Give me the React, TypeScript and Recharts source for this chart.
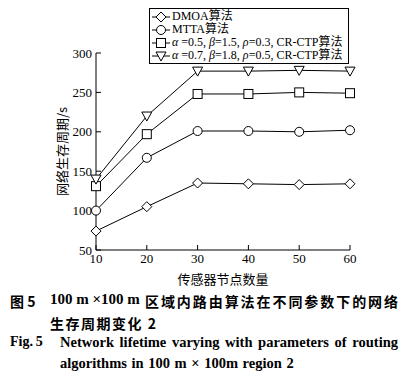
import { LineChart, Line, XAxis, YAxis, Legend } from "recharts";

const nodeCounts = [10, 20, 30, 40, 50, 60];
const dmoa = [74, 105, 135, 134, 133, 134];
const mtta = [100, 167, 201, 201, 200, 202];
const crctpA = [131, 197, 248, 248, 250, 249];
const crctpB = [140, 220, 277, 277, 278, 277];
const yTicks = [50, 100, 150, 200, 250, 300];

const series = [
  { key: "dmoa", values: dmoa, marker: "diamond" },
  { key: "mtta", values: mtta, marker: "circle" },
  { key: "crctpA", values: crctpA, marker: "square" },
  { key: "crctpB", values: crctpB, marker: "triangle" },
];

const data = nodeCounts.map((n, i) => {
  const row: Record<string, number> = { n };
  series.forEach((s) => (row[s.key] = s.values[i]));
  return row;
});

const serif = '"Liberation Serif", "Times New Roman", "Noto Sans CJK SC", serif';
const cjk = '"Noto Sans CJK SC", sans-serif';

function Marker({ type, cx, cy }: { type: string; cx: number; cy: number }) {
  const p = { fill: "#fff", stroke: "#000", strokeWidth: 1 };
  if (type === "diamond")
    return <polygon {...p} points={`${cx},${cy - 5} ${cx + 5},${cy} ${cx},${cy + 5} ${cx - 5},${cy}`} />;
  if (type === "circle") return <circle {...p} cx={cx} cy={cy} r={4.5} />;
  if (type === "square") return <rect {...p} x={cx - 4.5} y={cy - 4.5} width={9} height={9} />;
  return <polygon {...p} points={`${cx - 5},${cy - 4} ${cx + 5},${cy - 4} ${cx},${cy + 5}`} />;
}

const makeDot = (type: string) => (props: any) => {
  if (props.cx == null || props.cy == null) return <g key={props.index} />;
  return <Marker key={props.index} type={type} cx={props.cx} cy={props.cy} />;
};

const legendLabels: Record<string, React.ReactNode> = {
  dmoa: "DMOA算法",
  mtta: "MTTA算法",
  crctpA: (
    <>
      <i>α</i> =0.5, <i>β</i>=1.5, <i>ρ</i>=0.3, CR-CTP算法
    </>
  ),
  crctpB: (
    <>
      <i>α</i> =0.7, <i>β</i>=1.8, <i>ρ</i>=0.5, CR-CTP算法
    </>
  ),
};

function renderLegend() {
  return (
    <div
      style={{
        border: "1px solid #000",
        background: "#fff",
        padding: "1px 6px 1px 2px",
        fontFamily: serif,
        fontSize: 12,
        lineHeight: "13px",
        color: "#000",
      }}
    >
      {series.map((s) => (
        <div key={s.key} style={{ display: "flex", alignItems: "center", height: 13 }}>
          <svg width={18} height={12} style={{ marginRight: 2, flex: "none" }}>
            <line x1={0} y1={6} x2={18} y2={6} stroke="#000" />
            <Marker type={s.marker} cx={9} cy={6} />
          </svg>
          <span style={{ whiteSpace: "nowrap" }}>{legendLabels[s.key]}</span>
        </div>
      ))}
    </div>
  );
}

const tickStyle = { fontSize: 13, fill: "#000", fontFamily: serif };

export default function App() {
  return (
    <div style={{ position: "absolute", left: 0, top: 0, width: 404, height: 375, background: "#fff" }}>
      <LineChart width={404} height={290} data={data} margin={{ top: 53, right: 54, bottom: 0, left: 0 }}>
        <XAxis
          dataKey="n"
          type="number"
          domain={[10, 60]}
          ticks={nodeCounts}
          height={40}
          tickSize={-5}
          tickMargin={9}
          tick={tickStyle}
          axisLine={{ stroke: "#000" }}
          tickLine={{ stroke: "#000" }}
          label={{ value: "传感器节点数量", position: "insideBottom", offset: 6, fontSize: 13, fill: "#000", fontFamily: cjk }}
        />
        <YAxis
          type="number"
          domain={[50, 300]}
          ticks={yTicks}
          width={96}
          tickSize={-5}
          tickMargin={9}
          tick={tickStyle}
          axisLine={{ stroke: "#000" }}
          tickLine={{ stroke: "#000" }}
          label={{ value: "网络生存周期/s", angle: -90, position: "insideLeft", offset: 62, fontSize: 13, fill: "#000", fontFamily: cjk, style: { textAnchor: "middle" } }}
        />
        <Legend
          content={renderLegend}
          layout="vertical"
          align="center"
          verticalAlign="middle"
          wrapperStyle={{ left: 149, top: 8, width: "auto" }}
        />
        {series.map((s) => (
          <Line
            key={s.key}
            dataKey={s.key}
            stroke="#000"
            strokeWidth={1}
            dot={makeDot(s.marker)}
            activeDot={false}
            isAnimationActive={false}
          />
        ))}
      </LineChart>
      <div style={{ position: "absolute", top: 291, left: 10, width: 388, fontFamily: cjk, fontWeight: "bold", fontSize: 14, color: "#000" }}>
        <div style={{ position: "relative", height: 22 }}>
          <span style={{ position: "absolute", left: 0 }}>图 5</span>
          <span style={{ position: "absolute", left: 40, fontFamily: serif, fontSize: 15 }}>100 m ×100 m</span>
          <span style={{ position: "absolute", left: 135, width: 253, textAlignLast: "justify", display: "block" }}>
            区域内路由算法在不同参数下的网络
          </span>
        </div>
        <div style={{ position: "relative", height: 21 }}>
          <span style={{ position: "absolute", left: 40, letterSpacing: 1.5 }}>生存周期变化 2</span>
        </div>
        <div style={{ position: "relative", height: 21, fontFamily: serif, fontSize: 14.5 }}>
          <span style={{ position: "absolute", left: 0, fontSize: 14 }}>Fig.{"\u2009"}5</span>
          <span style={{ position: "absolute", left: 50, width: 338, textAlignLast: "justify", display: "block" }}>
            Network lifetime varying with parameters of routing
          </span>
        </div>
        <div style={{ position: "relative", height: 21, fontFamily: serif, fontSize: 14.5 }}>
          <span style={{ position: "absolute", left: 50, wordSpacing: 1 }}>algorithms in 100 m × 100m region 2</span>
        </div>
      </div>
    </div>
  );
}
